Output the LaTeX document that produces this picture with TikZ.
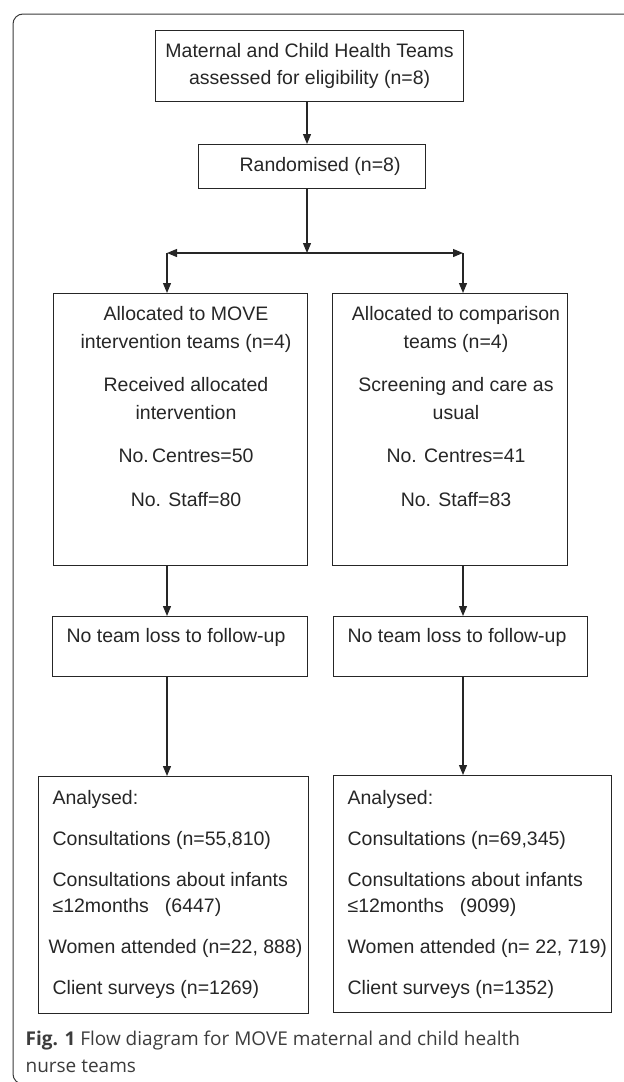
\documentclass[tikz,border=0pt]{standalone}
\usepackage{fontspec}
\setmainfont{Liberation Sans}
\newfontfamily\capfont{Open Sans}
\usetikzlibrary{arrows.meta}
\definecolor{linegray}{HTML}{262626}
\definecolor{framegray}{HTML}{3A3A3A}
\definecolor{capgray}{HTML}{3C3C3C}

\begin{document}
\begin{tikzpicture}[x=1pt, y=-1pt, line width=1.2pt, color=linegray,
  font=\fontsize{19.5}{27.5}\selectfont,
  box/.style = {draw, inner sep=0pt, anchor=north west},
  txt/.style = {inner sep=0pt, align=center},
  list/.style = {inner sep=0pt, align=left, anchor=north west, font=\fontsize{19.5}{26}\selectfont},
  arr/.style = {-{Triangle[length=10pt, width=8pt]}}]
\useasboundingbox (0,0) rectangle (624,1082);
\draw[framegray, line width=1pt, rounded corners=10pt] (640,14) -- (13,14) -- (13,1084) -- (60,1084);

\node[box, minimum width=308, minimum height=71, align=center] (mch) at (155,30) {Maternal and Child Health Teams\\assessed for eligibility (n=8)};
\node[box, minimum width=227, minimum height=44] (rand) at (198,144) {\hspace*{16pt}Randomised (n=8)};

\node[box, minimum width=254, minimum height=272] (move) at (53,293) {};
\node[txt, anchor=north] (movetxt) at (186,306) {Allocated to MOVE\\intervention teams (n=4)\\[16pt]Received allocated\\intervention\\[16pt]No.\,Centres=50\\[16pt]No. Staff=80};
\node[box, minimum width=235, minimum height=272] (comp) at (332,293) {};
\node[txt, anchor=north] (comptxt) at (456,306) {Allocated to comparison\\teams (n=4)\\[16pt]Screening and care as\\usual\\[16pt]No. Centres=41\\[16pt]No. Staff=83};

\node[box, minimum width=255, minimum height=60] (lossM) at (52,616) {};
\node[txt] (lossMtxt) at (176,637.5) {No team loss to follow-up};
\node[box, minimum width=254, minimum height=60] (lossC) at (333,616) {};
\node[txt] (lossCtxt) at (457,637.5) {No team loss to follow-up};

\node[box, minimum width=270, minimum height=237] (anM) at (38,776) {};
\node[list] (anMtxt) at (52,790) {Analysed:\\[15pt]Consultations (n=55,810)\\[15pt]Consultations about infants\\≤12months\hspace{16pt}(6447)\\[15pt]\hspace*{-4pt}Women attended (n=22, 888)\\[15pt]Client surveys (n=1269)};
\node[box, minimum width=278, minimum height=237] (anC) at (333,775) {};
\node[list] (anCtxt) at (347,790) {Analysed:\\[15pt]Consultations (n=69,345)\\[15pt]Consultations about infants\\≤12months\hspace{16pt}(9099)\\[15pt]Women attended (n= 22, 719)\\[15pt]Client surveys (n=1352)};

\coordinate (split) at (307,253);
\coordinate (splitL) at (167,253);
\coordinate (splitR) at (463,253);

\draw[arr] (split |- mch.south) -- (split |- rand.north);
\draw[arr] (split |- rand.south) -- (split);
\draw[arr] (split) -- (splitL);
\draw[arr] (split) -- (splitR);
\draw[arr] (splitL) -- (splitL |- move.north);
\draw[arr] (splitR) -- (splitR |- comp.north);
\draw[arr] (splitL |- move.south) -- (splitL |- lossM.north);
\draw[arr] (splitR |- comp.south) -- (splitR |- lossC.north);
\draw[arr] (splitL |- lossM.south) -- (splitL |- anM.north);
\draw[arr] (splitR |- lossC.south) -- (splitR |- anC.north);

\node[anchor=north west, inner sep=0pt, align=left, text=capgray, font=\capfont\fontsize{19}{27}\selectfont] (cap) at (25,1030) {\textbf{Fig. 1} Flow diagram for MOVE maternal and child health\\nurse teams};
\end{tikzpicture}
\end{document}
